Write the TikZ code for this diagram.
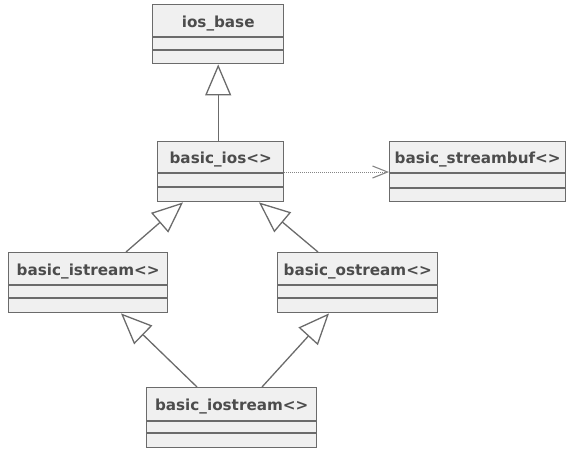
\documentclass[tikz,border=0pt]{standalone}
\usepackage{fontspec}
\setmainfont{DejaVu Sans}
\usetikzlibrary{arrows.meta}

\newlength{\du}
\setlength{\du}{1pt}

\definecolor{dialinecolor}{rgb}{0.420000, 0.420000, 0.420000}
\definecolor{diadotcolor}{rgb}{0.520000, 0.520000, 0.520000}
\definecolor{diafillcolor}{rgb}{0.940000, 0.940000, 0.940000}
\definecolor{diatextcolor}{rgb}{0.300000, 0.300000, 0.300000}

\tikzset{
  umlclass/.style={draw=dialinecolor, fill=diafillcolor, line width=1.4\du, anchor=north west, inner sep=0pt, minimum height=60\du},
  umlname/.style={anchor=base, text=diatextcolor, inner sep=0pt, font=\bfseries\fontsize{15.2}{17}\selectfont},
  umlsep/.style={draw=dialinecolor, line width=1.2\du},
  inherit/.style={draw=dialinecolor, line width=1.3\du, -{Triangle[open, length=31pt, width=26pt]}},
  depend/.style={draw=diadotcolor, line width=0.9\du, dash pattern=on 1pt off 1pt, -{Straight Barb[length=15pt, width=12pt, line width=1.1pt]}}
}

\begin{document}
\begin{tikzpicture}
\pgftransformxscale{1.000000}
\pgftransformyscale{-1.000000}
\useasboundingbox (0\du,0\du) rectangle (567\du,450\du);
% classes
\node[umlclass, minimum width=131\du, minimum height=59\du] (iosbase) at (152\du,4\du) {};
\node[umlclass, minimum width=126\du] (basicios) at (157\du,141\du) {};
\node[umlclass, minimum width=176\du] (streambuf) at (389\du,141\du) {};
\node[umlclass, minimum width=159\du] (istream) at (8\du,252\du) {};
\node[umlclass, minimum width=160\du] (ostream) at (277\du,252\du) {};
\node[umlclass, minimum width=170\du] (iostream) at (146\du,387\du) {};
% setfont names
\node[umlname] (iosbasename) at ([yshift=23\du]iosbase.north) {ios\_base};
\node[umlname] (basiciosname) at ([yshift=22.5\du]basicios.north) {basic\_ios<>};
\node[umlname] (streambufname) at ([yshift=22.5\du]streambuf.north) {basic\_streambuf<>};
\node[umlname] (istreamname) at ([yshift=23\du]istream.north) {basic\_istream<>};
\node[umlname] (ostreamname) at ([yshift=23\du]ostream.north) {basic\_ostream<>};
\node[umlname] (iostreamname) at ([yshift=23.5\du]iostream.north) {basic\_iostream<>};
% compartments
\draw[umlsep] ([yshift=33\du]iosbase.north west) -- ([yshift=33\du]iosbase.north east);
\draw[umlsep] ([yshift=46\du]iosbase.north west) -- ([yshift=46\du]iosbase.north east);
\draw[umlsep] ([yshift=32\du]basicios.north west) -- ([yshift=32\du]basicios.north east);
\draw[umlsep] ([yshift=46\du]basicios.north west) -- ([yshift=46\du]basicios.north east);
\draw[umlsep] ([yshift=32\du]streambuf.north west) -- ([yshift=32\du]streambuf.north east);
\draw[umlsep] ([yshift=47\du]streambuf.north west) -- ([yshift=47\du]streambuf.north east);
\draw[umlsep] ([yshift=33\du]istream.north west) -- ([yshift=33\du]istream.north east);
\draw[umlsep] ([yshift=46\du]istream.north west) -- ([yshift=46\du]istream.north east);
\draw[umlsep] ([yshift=33\du]ostream.north west) -- ([yshift=33\du]ostream.north east);
\draw[umlsep] ([yshift=46\du]ostream.north west) -- ([yshift=46\du]ostream.north east);
\draw[umlsep] ([yshift=34\du]iostream.north west) -- ([yshift=34\du]iostream.north east);
\draw[umlsep] ([yshift=46\du]iostream.north west) -- ([yshift=46\du]iostream.north east);
% generalizations
\draw[inherit] (iosbase.south |- basicios.north) -- (iosbase.south);
\draw[inherit] ([xshift=118\du]istream.north west) -- ([xshift=26\du]basicios.south west);
\draw[inherit] ([xshift=41\du]ostream.north west) -- ([xshift=102\du]basicios.south west);
\draw[inherit] ([xshift=51\du]iostream.north west) -- ([xshift=113\du]istream.south west);
\draw[inherit] ([xshift=116\du]iostream.north west) -- ([xshift=52\du]ostream.south west);
% dependency
\draw[depend] ([yshift=31\du]basicios.north east) -- ([yshift=31\du]streambuf.north west);
\end{tikzpicture}
\end{document}
